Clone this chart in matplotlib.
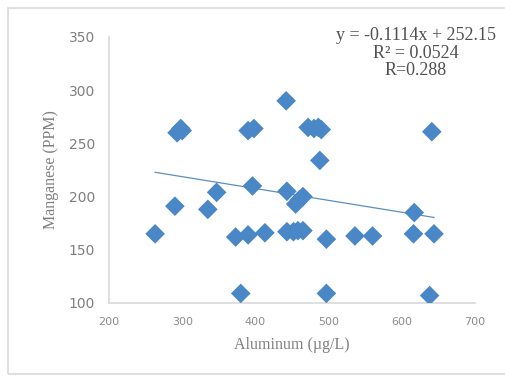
import numpy as np
import matplotlib
matplotlib.use("Agg")
import matplotlib.pyplot as plt
from matplotlib import patches

# aluminum (ug/L) vs manganese (PPM)
aluminum = [263, 290, 293, 298, 300, 335, 347, 373, 380, 390, 390, 398, 396,
            413, 442, 443, 443, 452, 458, 465, 455, 460, 465, 472, 480, 486,
            490, 488, 497, 497, 536, 560, 617, 616, 641, 644, 638]
manganese = [165, 191, 260, 264, 262, 188, 204, 162, 109, 164, 262, 264, 210,
             166, 290, 205, 167, 167, 168, 168, 193, 197, 200, 265, 264, 265,
             263, 234, 160, 109, 163, 163, 185, 165, 261, 165, 107]

# trendline as shown on the chart
slope = -0.1114
intercept = 252.15
eq_text = "y = -0.1114x + 252.15\nR² = 0.0524\nR=0.288"

xticks = [200, 300, 400, 500, 600, 700]
yticks = [100, 150, 200, 250, 300, 350]

fig = plt.figure(figsize=(5.06, 3.84), dpi=100)
ax = fig.add_axes([109 / 506, 1 - 303 / 384, 366 / 506, 266 / 384])

# light frame around the whole chart, like the excel chart area
fig.patches.append(patches.Rectangle((8 / 506, 1 - 374 / 384), 1, 366 / 384,
                                     transform=fig.transFigure, fill=False,
                                     edgecolor="#d9d9d9", linewidth=1.2))

ax.scatter(aluminum, manganese, marker="D", s=100, color="#4a87c6",
           edgecolors="none", zorder=3)

xs = np.array([min(aluminum), max(aluminum)])
ax.plot(xs, slope * xs + intercept, color="#5b8fc0", linewidth=0.9, zorder=2)

ax.set_xlim(200, 700)
ax.set_ylim(100, 350)
ax.set_xticks(xticks)
ax.set_yticks(yticks)
ax.tick_params(axis="x", length=0, colors="#8c8c8c", labelsize=8, pad=10)
ax.tick_params(axis="y", length=0, colors="#7f7f7f", labelsize=10, pad=10)

for s in ["top", "right"]:
    ax.spines[s].set_visible(False)
for s in ["left", "bottom"]:
    ax.spines[s].set_color("#d9d9d9")
    ax.spines[s].set_linewidth(1.2)

serif = ["Liberation Serif", "DejaVu Serif"]
ax.set_xlabel("Aluminum (µg/L)", family=serif, fontsize=11.5, color="#7f7f7f",
              labelpad=7)
ax.set_ylabel("Manganese (PPM)", family=serif, fontsize=11.5, color="#7f7f7f",
              labelpad=7)

fig.text(416 / 506, 1 - 27 / 384, eq_text, family=serif, fontsize=13,
         color="#505050", ha="center", va="top", linespacing=1.05)

fig.savefig("out.png", dpi=100)
